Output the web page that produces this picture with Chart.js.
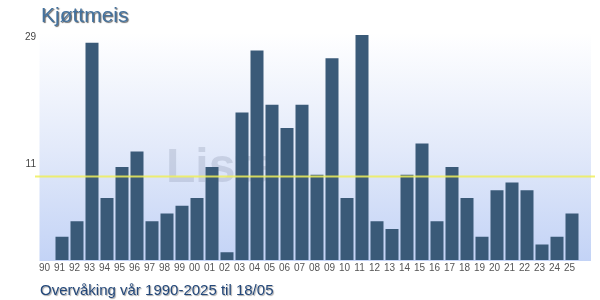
<!DOCTYPE html>
<html>
<head>
<meta charset="utf-8">
<script src="https://cdn.jsdelivr.net/npm/chart.js@4/dist/chart.umd.min.js"></script>
<style>
html,body{margin:0;padding:0;background:#fff;}
#wrap{position:relative;width:600px;height:300px;}
</style>
</head>
<body>
<div id="wrap"><canvas id="c" width="600" height="300"></canvas></div>
<script>
const years = ['90','91','92','93','94','95','96','97','98','99','00','01','02','03','04','05','06','07','08','09','10','11','12','13','14','15','16','17','18','19','20','21','22','23','24','25'];
const counts = [0,3,5,28,8,12,14,5,6,7,8,12,1,19,27,20,17,20,11,26,8,29,5,4,11,15,5,12,8,3,9,10,9,2,3,6];
const average = 10.8;
const yLabels = ['29','11'];
const titleText = 'Kjøttmeis';
const footerText = 'Overvåking vår 1990-2025 til 18/05';
const watermarkText = 'Lista';

const decor = {
  id: 'decor',
  beforeDatasetsDraw(chart) {
    const {ctx, chartArea: a} = chart;
    ctx.save();
    const g = ctx.createLinearGradient(0, a.top - 2, 0, a.bottom + 1);
    g.addColorStop(0, '#ffffff');
    g.addColorStop(0.5, '#e3eafa');
    g.addColorStop(1, '#c3d3f6');
    ctx.fillStyle = g;
    ctx.fillRect(a.left, a.top - 2, 591 - a.left, a.bottom + 1 - (a.top - 2));
    ctx.font = 'bold 48px Arial, "Liberation Sans", sans-serif';
    ctx.fillStyle = 'rgba(145,155,180,0.32)';
    ctx.textBaseline = 'alphabetic';
    ctx.fillText(watermarkText, 166, 182);
    ctx.restore();
  },
  afterDatasetsDraw(chart) {
    const {ctx, chartArea: a, scales} = chart;
    const y = scales.y;
    ctx.save();
    const ly = Math.round(y.getPixelForValue(average)) + 0.5;
    ctx.strokeStyle = 'rgba(238,238,90,0.85)';
    ctx.lineWidth = 2;
    ctx.beginPath();
    ctx.moveTo(35, ly);
    ctx.lineTo(595, ly);
    ctx.stroke();
    // y labels
    ctx.font = '10px Arial, "Liberation Sans", sans-serif';
    ctx.fillStyle = '#444';
    ctx.textAlign = 'right';
    ctx.textBaseline = 'middle';
    ctx.fillText(yLabels[0], 36, y.getPixelForValue(29) + 2);
    ctx.fillText(yLabels[1], 36, y.getPixelForValue(average) - 12);
    // title
    ctx.textAlign = 'left';
    ctx.textBaseline = 'alphabetic';
    ctx.font = '21px Arial, "Liberation Sans", sans-serif';
    ctx.shadowColor = 'rgba(0,0,0,0.6)';
    ctx.shadowOffsetX = 1;
    ctx.shadowOffsetY = 1;
    ctx.shadowBlur = 1;
    ctx.fillStyle = '#44729e';
    ctx.fillText(titleText, 41, 22);
    ctx.font = '15px Arial, "Liberation Sans", sans-serif';
    ctx.fillStyle = '#24487a';
    ctx.shadowColor = 'rgba(0,0,0,0.35)';
    ctx.fillText(footerText, 40, 295);
    ctx.restore();
  }
};

new Chart(document.getElementById('c'), {
  type: 'bar',
  data: {
    labels: years,
    datasets: [{
      data: counts,
      backgroundColor: '#3a5a78',
      borderWidth: 0,
      barPercentage: 13/15,
      categoryPercentage: 1
    }]
  },
  options: {
    responsive: false,
    animation: false,
    events: [],
    layout: { padding: { left: 39.5, right: 20.5, top: 35, bottom: 0 } },
    plugins: { legend: { display: false }, tooltip: { enabled: false }, title: { display: false } },
    scales: {
      x: {
        grid: { display: false, drawTicks: false },
        border: { display: false },
        ticks: {
          autoSkip: false, maxRotation: 0, minRotation: 0,
          color: '#555', padding: 2, labelOffset: -2.5,
          font: { family: 'Arial, "Liberation Sans", sans-serif', size: 10 }
        },
        afterFit(s) { s.height = 40; }
      },
      y: {
        display: false,
        min: 0, max: 29
      }
    }
  },
  plugins: [decor]
});
</script>
</body>
</html>
